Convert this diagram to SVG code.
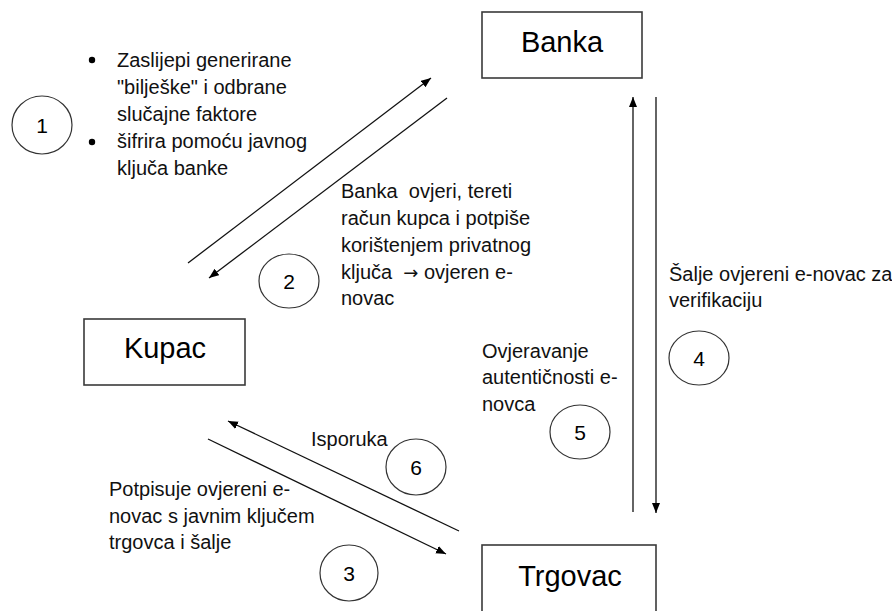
<svg xmlns="http://www.w3.org/2000/svg" width="892" height="611" viewBox="0 0 892 611">
<defs>
<marker id="ah" markerUnits="userSpaceOnUse" markerWidth="11" markerHeight="9" refX="10" refY="4" orient="auto">
<path d="M0,0 L10,4 L0,8 z" fill="#000"/>
</marker>
<style>
.box{fill:#fff;stroke:#3a3a3a;stroke-width:1.6}
.node{font-family:"Liberation Sans",Arial,sans-serif;font-size:29px;fill:#000;text-anchor:middle}
.t{font-family:"Liberation Sans",Arial,sans-serif;font-size:20px;fill:#111}
.arr{font-family:"DejaVu Sans",sans-serif;font-size:18px}
.num{font-family:"Liberation Sans",Arial,sans-serif;font-size:21px;fill:#000;text-anchor:middle}
.ell{fill:none;stroke:#333;stroke-width:1.2}
.c{stroke:#111;stroke-width:1.3;fill:none}
</style>
</defs>
<rect width="892" height="611" fill="#fff"/>
<g id="banka"><rect class="box" x="482" y="12" width="160" height="66"/><text class="node" x="562" y="52">Banka</text></g>
<g id="kupac"><rect class="box" x="84" y="319" width="161" height="66"/><text class="node" x="165" y="358">Kupac</text></g>
<g id="trgovac"><rect class="box" x="482" y="545" width="174" height="80"/><text class="node" x="570" y="586">Trgovac</text></g>
<g id="connectors">
<line class="c" x1="188" y1="263" x2="431" y2="78" marker-end="url(#ah)"/>
<line class="c" x1="447" y1="98" x2="209" y2="278" marker-end="url(#ah)"/>
<line class="c" x1="633" y1="512" x2="633" y2="97" marker-end="url(#ah)"/>
<line class="c" x1="656" y1="97" x2="656" y2="513" marker-end="url(#ah)"/>
<line class="c" x1="459" y1="531" x2="228" y2="421" marker-end="url(#ah)"/>
<line class="c" x1="208" y1="439" x2="446" y2="554" marker-end="url(#ah)"/>
</g>
<g id="step1"><ellipse class="ell" cx="42" cy="125" rx="30" ry="29"/><text class="num" x="42" y="133">1</text></g>
<g id="step2"><ellipse class="ell" cx="289" cy="281" rx="30" ry="27"/><text class="num" x="289" y="289">2</text></g>
<g id="step3"><ellipse class="ell" cx="349" cy="573" rx="29" ry="28"/><text class="num" x="349" y="581">3</text></g>
<g id="step4"><ellipse class="ell" cx="699" cy="358" rx="30" ry="27"/><text class="num" x="699" y="366">4</text></g>
<g id="step5"><ellipse class="ell" cx="580" cy="432" rx="30" ry="27"/><text class="num" x="580" y="440">5</text></g>
<g id="step6"><ellipse class="ell" cx="416" cy="467" rx="30" ry="28"/><text class="num" x="416" y="475">6</text></g>
<g id="label1">
<circle cx="92" cy="60" r="3.2" fill="#000"/>
<circle cx="92" cy="142" r="3.2" fill="#000"/>
<text class="t" x="117" y="67">Zaslijepi generirane</text>
<text class="t" x="117" y="94">"bilješke" i odbrane</text>
<text class="t" x="117" y="121">slučajne faktore</text>
<text class="t" x="117" y="148">šifrira pomoću javnog</text>
<text class="t" x="117" y="175">ključa banke</text>
</g>
<g id="label2">
<text class="t" x="341" y="198" xml:space="preserve">Banka  ovjeri, tereti</text>
<text class="t" x="341" y="225">račun kupca i potpiše</text>
<text class="t" x="341" y="252">korištenjem privatnog</text>
<text class="t" x="341" y="279" xml:space="preserve">ključa  <tspan class="arr">→</tspan> ovjeren e-</text>
<text class="t" x="341" y="305">novac</text>
</g>
<g id="label4">
<text class="t" x="669" y="281">Šalje ovjereni e-novac za</text>
<text class="t" x="669" y="307">verifikaciju</text>
</g>
<g id="label5">
<text class="t" x="482" y="358">Ovjeravanje</text>
<text class="t" x="482" y="384">autentičnosti e-</text>
<text class="t" x="482" y="411">novca</text>
</g>
<g id="label6"><text class="t" x="311" y="446">Isporuka</text></g>
<g id="label3">
<text class="t" x="109" y="496">Potpisuje ovjereni e-</text>
<text class="t" x="109" y="523">novac s javnim ključem</text>
<text class="t" x="109" y="549">trgovca i šalje</text>
</g>
</svg>
